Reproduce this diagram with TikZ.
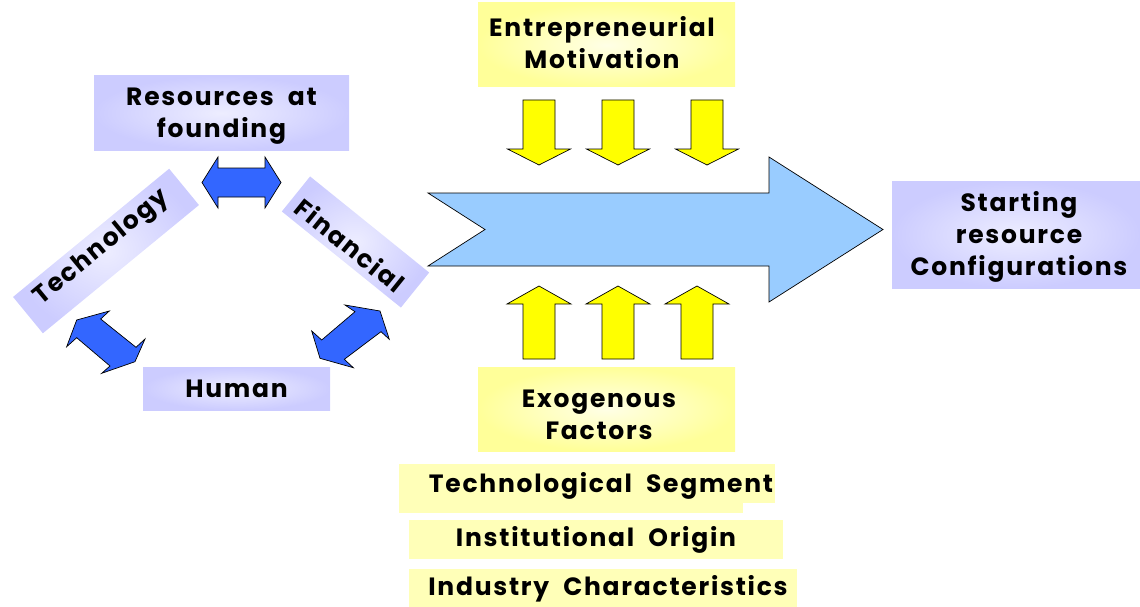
\documentclass[tikz,border=0pt]{standalone}
\usepackage{fontspec}
\setmainfont{Poppins}
\newfontfamily\labelfont{Poppins}[LetterSpace=7, WordSpace=2]
\usetikzlibrary{shadings}
\definecolor{lavedge}{HTML}{CCCCFF}
\definecolor{lavmid}{HTML}{EDEDFF}
\definecolor{yeledge}{HTML}{FFFF99}
\definecolor{yelmid}{HTML}{FFFFE6}
\definecolor{paleyel}{HTML}{FFFFB8}
\definecolor{linkblue}{HTML}{3366FF}
\definecolor{flowblue}{HTML}{99CCFF}
\definecolor{pushyel}{HTML}{FFFF00}
\tikzset{
  lbl/.style={font=\labelfont\bfseries\fontsize{25}{32}\selectfont, align=center, text=black, inner sep=0pt},
  lavbox/.style={lbl, rectangle, inner color=lavmid, outer color=lavedge},
  yelbox/.style={lbl, rectangle, inner color=yelmid, outer color=yeledge},
  subbox/.style={lbl, rectangle, fill=paleyel},
  blockarrow/.style={draw=black, line width=0.7pt, line join=miter},
}
\begin{document}
\begin{tikzpicture}[x=1pt, y=-1pt]
\useasboundingbox (0,0) rectangle (1140,607);

% resource boxes
\node[lavbox, minimum width=255, minimum height=74] (found) at (221.5,113) {};
\node[lbl] (foundtext) at (221.5,116) {Resources at\\founding};
\node[lavbox, minimum width=202, minimum height=47, rotate=39.4] (tech) at (106,251) {};
\node[lbl, rotate=39.4] (techtext) at (102,248) {Technology};
\node[lavbox, minimum width=153, minimum height=45, rotate=-38.9] (fin) at (355.5,242) {};
\node[lbl, rotate=-38.9] (fintext) at (350,245) {Financial};
\node[lavbox, minimum width=187, minimum height=43] (human) at (236.5,388.5) {Human};
\node[lavbox, minimum width=248, minimum height=107] (start) at (1016,234.5) {};
\node[lbl] (starttext) at (1019,237) {Starting\\resource\\Configurations};

% motivation and exogenous boxes
\node[yelbox, minimum width=257, minimum height=84] (motiv) at (606.5,45) {};
\node[lbl] (motivtext) at (602,43) {Entrepreneurial\\Motivation};
\node[yelbox, minimum width=257, minimum height=84] (exo) at (606.5,409) {};
\node[lbl] (exotext) at (599,415) {Exogenous\\Factors};

% exogenous sub-factors
\node[subbox, minimum width=376, minimum height=39] (segbox) at (587,483.5) {};
\fill[paleyel] (segbox.south west) rectangle ++(344,10);
\node[lbl] (seg) at (601,486) {Technological Segment};
\node[subbox, minimum width=374, minimum height=39] (inst) at (596,539.5) {Institutional Origin};
\node[subbox, minimum width=388, minimum height=38] (indbox) at (603,588) {};
\node[lbl] (ind) at (608,589) {Industry Characteristics};

% two-headed links between the resources
\draw[blockarrow, fill=linkblue] (202,182.5) -- (218,157) -- (218,168) -- (265,168) -- (265,157) -- (281,182.5)
  -- (265,208) -- (265,197) -- (218,197) -- (218,208) -- cycle;
\draw[blockarrow, fill=linkblue] (76.7,320) -- (109.3,311) -- (100.7,319) -- (136,347.3) -- (145,339) -- (135,361.7)
  -- (101.7,373.3) -- (110,366) -- (76.7,337.7) -- (66.7,346.7) -- cycle;
\draw[blockarrow, fill=linkblue] (345,305) -- (380,311) -- (389.3,339.3) -- (381,331.7) -- (344.3,359.3) -- (353.3,367.7)
  -- (320,358.3) -- (311.7,331) -- (321.7,340) -- (355,311.7) -- cycle;

% main flow arrow
\draw[blockarrow, fill=flowblue] (428,193) -- (769,193) -- (769,157) -- (883,229.5) -- (769,302) -- (769,266)
  -- (428,266) -- (485,229.5) -- cycle;

% pushing arrows from above and below
\foreach \cx in {539,618,707}
  \draw[blockarrow, fill=pushyel] (\cx-16,100) -- (\cx+16,100) -- (\cx+16,149) -- (\cx+31.5,149) -- (\cx,165)
    -- (\cx-31.5,149) -- (\cx-16,149) -- cycle;
\foreach \cx in {539,618,697}
  \draw[blockarrow, fill=pushyel] (\cx-16,359) -- (\cx+16,359) -- (\cx+16,304) -- (\cx+32,304) -- (\cx,286)
    -- (\cx-32,304) -- (\cx-16,304) -- cycle;
\end{tikzpicture}
\end{document}
